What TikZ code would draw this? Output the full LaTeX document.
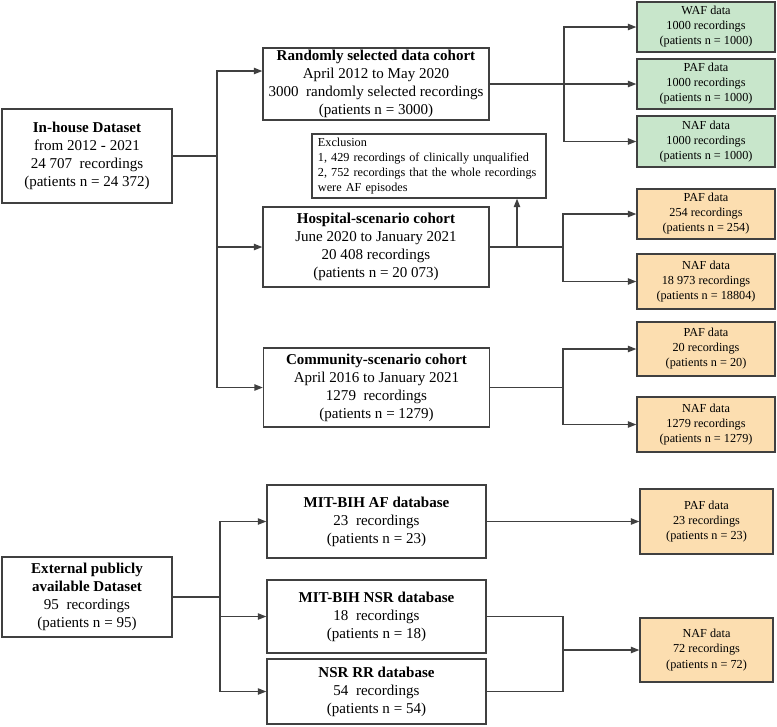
\documentclass[tikz,border=0pt]{standalone}
\usepackage{fontspec}
\setmainfont{Liberation Serif}
\usepackage{tikz}
\usetikzlibrary{arrows.meta, calc}

\definecolor{afgreen}{RGB}{200,230,203}
\definecolor{aforange}{RGB}{252,222,176}
\definecolor{edge}{RGB}{64,64,64}

\tikzset{
	box/.style={draw=edge, line width=0.9pt, align=center, inner sep=0pt, font=\fontsize{10.7}{12.8}\selectfont},
	smallbox/.style={box, font=\fontsize{8.7}{10.7}\selectfont, minimum width=3.45cm},
	greenbox/.style={smallbox, fill=afgreen},
	orangebox/.style={smallbox, fill=aforange},
	link/.style={draw=edge, line width=0.9pt},
	arr/.style={link, -{Triangle[length=6pt,width=4.5pt]}}
}

\begin{document}
\begin{tikzpicture}[x=0.025cm, y=-0.025cm]
	% Frame
	\useasboundingbox (0,0) rectangle (777,726);
	
	% In-house dataset and its cohorts
	\node[box, minimum width=4.25cm, minimum height=2.35cm] (inhouse) at (87,156) {\textbf{In-house Dataset}\\from 2012 - 2021\\24 707~ recordings\\(patients n = 24 372)};
	\node[box, minimum width=5.65cm, minimum height=1.8cm] (random) at (376,84) {\textbf{Randomly selected data cohort}\\April 2012 to May 2020\\3000~ randomly selected recordings\\(patients n = 3000)};
	\node[box, align=left, text width=5.55cm, inner xsep=0.15cm, minimum height=1.6cm, font=\fontsize{8.7}{10.7}\selectfont] (exclusion) at (429,166) {Exclusion\\1, 429 recordings of clinically unqualified\\2, 752 recordings that the whole recordings\\were AF episodes};
	\node[box, minimum width=5.65cm, minimum height=2.0cm] (hospital) at (376,247) {\textbf{Hospital-scenario cohort}\\June 2020 to January 2021\\20 408 recordings\\(patients n = 20 073)};
	\node[box, minimum width=5.65cm, minimum height=1.98cm] (community) at (376.5,387.5) {\textbf{Community-scenario cohort}\\April 2016 to January 2021\\1279~ recordings\\(patients n = 1279)};
	
	% Green data sets
	\node[greenbox, minimum height=1.25cm] (waf) at (706,27) {WAF data\\1000 recordings\\(patients n = 1000)};
	\node[greenbox, minimum height=1.25cm] (paf1) at (706,84) {PAF data\\1000 recordings\\(patients n = 1000)};
	\node[greenbox, minimum height=1.275cm] (naf1) at (706,141.5) {NAF data\\1000 recordings\\(patients n = 1000)};
	
	% Orange data sets
	\node[orangebox, minimum height=1.25cm] (paf2) at (706,214) {PAF data\\254 recordings\\(patients n = 254)};
	\node[orangebox, minimum height=1.375cm] (naf2) at (706,281.5) {NAF data\\18 973 recordings\\(patients n = 18804)};
	\node[orangebox, minimum height=1.35cm] (paf3) at (706,349) {PAF data\\20 recordings\\(patients n = 20)};
	\node[orangebox, minimum height=1.375cm] (naf3) at (706,424.5) {NAF data\\1279 recordings\\(patients n = 1279)};
	
	% External dataset and its databases
	\node[box, minimum width=4.25cm, minimum height=2.0cm] (external) at (87,597) {\textbf{External publicly}\\\textbf{available Dataset}\\95~ recordings\\(patients n = 95)};
	\node[box, minimum width=5.475cm, minimum height=1.825cm] (mitaf) at (376.5,521.5) {\textbf{MIT-BIH AF database}\\23~ recordings\\(patients n = 23)};
	\node[box, minimum width=5.475cm, minimum height=1.825cm] (mitnsr) at (376.5,616.5) {\textbf{MIT-BIH NSR database}\\18~ recordings\\(patients n = 18)};
	\node[box, minimum width=5.475cm, minimum height=1.625cm] (nsrrr) at (376.5,691.5) {\textbf{NSR RR database}\\54~ recordings\\(patients n = 54)};
	\node[orangebox, minimum width=3.325cm, minimum height=1.625cm] (paf4) at (706.5,521.5) {PAF data\\23 recordings\\(patients n = 23)};
	\node[orangebox, minimum width=3.325cm, minimum height=1.6cm] (naf4) at (706.5,650) {NAF data\\72 recordings\\(patients n = 72)};
	
	% Junctions
	\coordinate (b1) at (217,156);
	\coordinate (j1) at (564,84);
	\coordinate (j2) at (563,247);
	\coordinate (e1) at (517,247);
	\coordinate (j3) at (563,387.5);
	\coordinate (b2) at (220,597);
	\coordinate (j5) at (563,650);
	
	% In-house connectors
	\draw[link] (inhouse.east) -- (b1);
	\draw[arr] (b1) |- ($(random.west)+(0,-13)$);
	\draw[arr] (b1) |- (hospital.west);
	\draw[arr] (b1) |- (community.west);
	\draw[link] (random.east) -- (j1);
	\draw[arr] (j1) |- (waf.west);
	\draw[arr] (j1) -- (paf1.west);
	\draw[arr] (j1) |- (naf1.west);
	\draw[link] (hospital.east) -- (j2);
	\draw[arr] (e1) -- (e1 |- exclusion.south);
	\draw[arr] (j2) |- (paf2.west);
	\draw[arr] (j2) |- (naf2.west);
	\draw[link] (community.east) -- (j3);
	\draw[arr] (j3) |- (paf3.west);
	\draw[arr] (j3) |- (naf3.west);
	
	% External connectors
	\draw[link] (external.east) -- (b2);
	\draw[arr] (b2) |- (mitaf.west);
	\draw[arr] (b2) |- (mitnsr.west);
	\draw[arr] (b2) |- (nsrrr.west);
	\draw[arr] (mitaf.east) -- (paf4.west);
	\draw[link] (mitnsr.east) -| (j5);
	\draw[link] (nsrrr.east) -| (j5);
	\draw[arr] (j5) -- (naf4.west);
\end{tikzpicture}
\end{document}
